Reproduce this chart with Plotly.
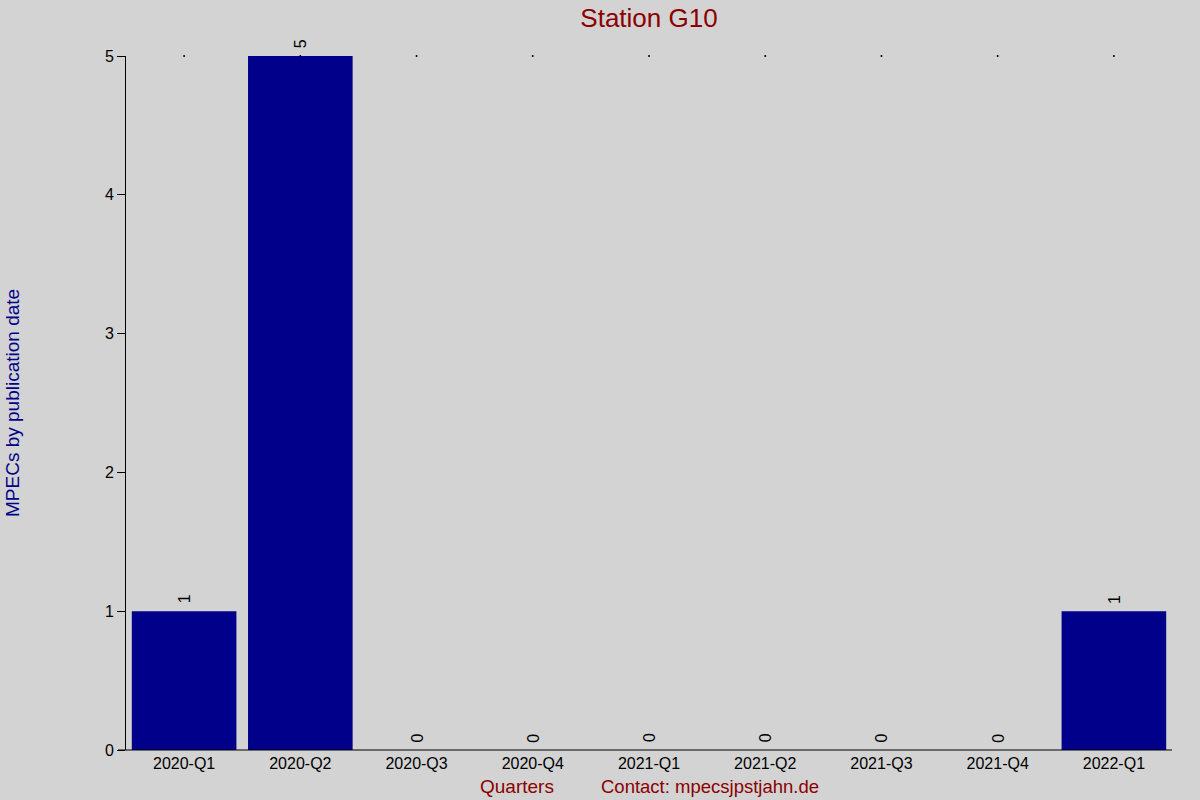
import plotly.graph_objects as go

quarters = ["2020-Q1", "2020-Q2", "2020-Q3", "2020-Q4", "2021-Q1",
            "2021-Q2", "2021-Q3", "2021-Q4", "2022-Q1"]
counts = [1, 5, 0, 0, 0, 0, 0, 0, 1]
y_ticks = [0, 1, 2, 3, 4, 5]
y_max = 5

FONT = "Liberation Sans, Arial, sans-serif"

fig = go.Figure()
fig.add_trace(go.Bar(
    x=quarters, y=counts,
    marker=dict(color="#00008B", line=dict(width=0)),
    cliponaxis=False,
    width=0.9,
    hoverinfo="x+y",
))
fig.add_trace(go.Scatter(
    x=quarters, y=[y_max] * len(quarters),
    mode="markers",
    marker=dict(size=2, color="black"),
    hoverinfo="skip",
    cliponaxis=False,
))

# value labels above bars (rotated)
for q, c in zip(quarters, counts):
    fig.add_annotation(x=q, y=c, text=str(c), xref="x", yref="y",
                       textangle=-90, showarrow=False,
                       xanchor="center", yanchor="middle", yshift=12,
                       font=dict(family=FONT, size=16, color="black"))

fig.update_layout(
    width=1200, height=800,
    paper_bgcolor="#D3D3D3", plot_bgcolor="#D3D3D3",
    margin=dict(l=126, r=28, t=56, b=50),
    showlegend=False,
    title=dict(text="Station G10", x=(126 + 1172) / 2 / 1200, xanchor="center",
               y=1 - 18 / 800, yanchor="middle",
               font=dict(family=FONT, size=26, color="#8B0000")),
    font=dict(family=FONT, size=16, color="black"),
    bargap=0.1,
)
fig.update_xaxes(
    type="category", range=[-0.5, len(quarters) - 0.5],
    showline=False,
    ticks="", showgrid=False, zeroline=False,
    tickfont=dict(family=FONT, size=16, color="black"),
    ticklabelstandoff=2,
)
fig.update_yaxes(
    range=[0, y_max], tickvals=y_ticks,
    showline=True, linecolor="black", linewidth=1,
    ticks="outside", ticklen=8, tickcolor="black",
    showgrid=False, zeroline=False,
    tickfont=dict(family=FONT, size=16, color="black"),
)
# x axis baseline extending slightly left of the y axis
fig.add_shape(type="line", xref="paper", yref="paper",
              x0=-8 / 1046, x1=1, y0=0, y1=0,
              line=dict(color="black", width=1))

fig.add_annotation(text="MPECs by publication date", xref="paper", yref="paper",
                   x=-114 / 1046, y=(750 - 403) / 694, xanchor="center", yanchor="middle",
                   textangle=-90, showarrow=False,
                   font=dict(family=FONT, size=19, color="#00008B"))
fig.add_annotation(text="Quarters", xref="paper", yref="paper",
                   x=(517 - 126) / 1046, y=-36 / 694, xanchor="center", yanchor="middle",
                   showarrow=False, font=dict(family=FONT, size=19, color="#8B0000"))
fig.add_annotation(text="Contact: mpecsjpstjahn.de", xref="paper", yref="paper",
                   x=(710 - 126) / 1046, y=-36 / 694, xanchor="center", yanchor="middle",
                   showarrow=False, font=dict(family=FONT, size=18.5, color="#8B0000"))

fig.write_html("out.html", config={"displayModeBar": False},
               post_script="document.body.style.margin='0px';")
